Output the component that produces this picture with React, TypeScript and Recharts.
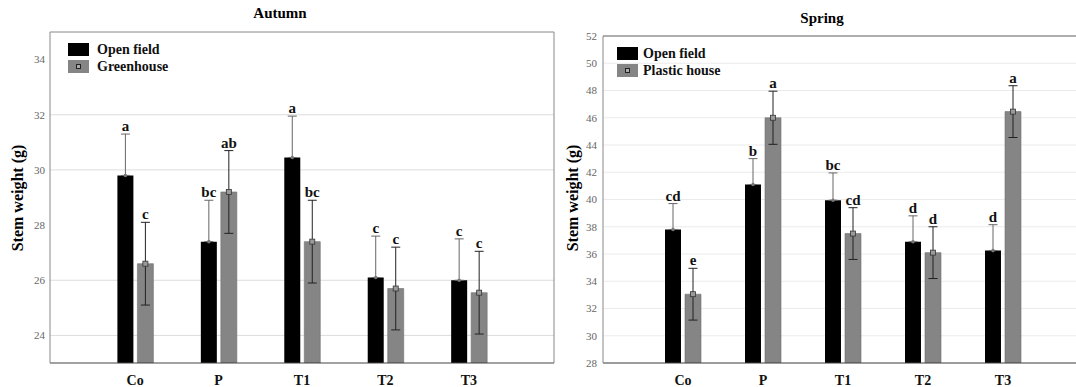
import React from 'react';
import { BarChart, Bar, XAxis, YAxis, CartesianGrid, ErrorBar, LabelList, Legend } from 'recharts';

const categories = ['Co', 'P', 'T1', 'T2', 'T3'];

// Autumn
const autumnOpen = [29.8, 27.4, 30.45, 26.1, 26.0];
const autumnOpenErr = [1.5, 1.5, 1.5, 1.5, 1.5];
const autumnOpenLetters = ['a', 'bc', 'a', 'c', 'c'];
const autumnGreen = [26.6, 29.2, 27.4, 25.7, 25.55];
const autumnGreenErr = [1.5, 1.5, 1.5, 1.5, 1.5];
const autumnGreenLetters = ['c', 'ab', 'bc', 'c', 'c'];
const autumnTicks = [24, 26, 28, 30, 32, 34];
const autumnGridValues = [24, 26, 30, 32];
const autumnDomain: [number, number] = [23, 35];

// Spring
const springOpen = [37.8, 41.1, 39.95, 36.9, 36.25];
const springOpenErr = [1.9, 1.9, 2.0, 1.9, 1.9];
const springOpenLetters = ['cd', 'b', 'bc', 'd', 'd'];
const springPlastic = [33.05, 46.0, 37.5, 36.1, 46.45];
const springPlasticErr = [1.9, 1.95, 1.9, 1.9, 1.9];
const springPlasticLetters = ['e', 'a', 'cd', 'd', 'a'];
const springTicks = [28, 30, 32, 34, 36, 38, 40, 42, 44, 46, 48, 50, 52];
const springDomain: [number, number] = [28, 52];

const minorRightTicks = [1, 2, 3, 4, 5, 6, 7, 8, 9];

// The lower whisker of the open-field bars is hidden inside the black bar.
const autumnData = categories.map((c, i) => ({
  cat: c,
  open: autumnOpen[i],
  openErr: [0, autumnOpenErr[i]],
  other: autumnGreen[i],
  otherErr: autumnGreenErr[i],
}));

const springData = categories.map((c, i) => ({
  cat: c,
  open: springOpen[i],
  openErr: [0, springOpenErr[i]],
  other: springPlastic[i],
  otherErr: springPlasticErr[i],
}));

const SERIF = '"Liberation Serif", "Times New Roman", serif';
const BLACK = '#000000';
const GRAY = '#858585';

const makeLabel = (letters: string[], vals: number[], errs: number[], min: number, square: boolean) =>
  (props: any) => {
    const x = Number(props.x);
    const y = Number(props.y);
    const width = Number(props.width);
    const height = Number(props.height);
    const index = props.index as number;
    const v = vals[index];
    const e = errs[index];
    const ppu = height / (v - min);
    const cx = x + width / 2;
    const capY = y - e * ppu;
    return (
      <g>
        {square ? (
          <rect x={cx - 2.5} y={y - 2.5} width={5} height={5} fill="#9a9a9a" stroke="#333" strokeWidth={0.8} />
        ) : (
          <circle cx={cx} cy={y} r={1.8} fill="#777" />
        )}
        <text x={cx} y={capY - 3} textAnchor="middle" fontFamily={SERIF} fontWeight="bold" fontSize={15} fill="#111">
          {letters[index]}
        </text>
      </g>
    );
  };

function LegendBox({ labels, gap }: { labels: string[]; gap: number }) {
  return (
    <div style={{ fontFamily: SERIF, fontWeight: 'bold', fontSize: 14, color: '#111' }}>
      {labels.map((l, i) => (
        <div key={l} style={{ display: 'flex', alignItems: 'center', height: 17 }}>
          <span
            style={{
              display: 'inline-block',
              position: 'relative',
              width: 21,
              height: 13,
              background: i === 0 ? BLACK : GRAY,
              marginRight: gap,
              boxSizing: 'border-box',
            }}
          >
            {i === 1 && (
              <span
                style={{
                  position: 'absolute',
                  left: 8,
                  top: 4,
                  width: 5,
                  height: 5,
                  boxSizing: 'border-box',
                  border: '1px solid #222',
                  background: '#aaa',
                }}
              />
            )}
          </span>
          <span style={{ lineHeight: '17px' }}>{l}</span>
        </div>
      ))}
    </div>
  );
}

const tickStyle = { fontFamily: SERIF, fontSize: 11, fill: '#666' };
const xTickStyle = { fontFamily: SERIF, fontSize: 14, fill: '#111', fontWeight: 'bold' as const };

export default function App() {
  return (
    <div
      style={{
        position: 'fixed',
        left: 0,
        top: 0,
        width: 1076,
        height: 387,
        overflow: 'hidden',
        background: '#fff',
        fontFamily: SERIF,
      }}
    >
      {/* Titles */}
      <div style={{ position: 'absolute', left: 200, width: 160, top: 4, textAlign: 'center', fontWeight: 'bold', fontSize: 15, lineHeight: '18px' }}>
        Autumn
      </div>
      <div style={{ position: 'absolute', left: 742, width: 160, top: 9, textAlign: 'center', fontWeight: 'bold', fontSize: 15, lineHeight: '18px' }}>
        Spring
      </div>
      {/* Y labels */}
      <div
        style={{
          position: 'absolute',
          left: 18,
          top: 198,
          width: 200,
          textAlign: 'center',
          fontWeight: 'bold',
          fontSize: 16,
          lineHeight: '18px',
          transform: 'translate(-50%, -50%) rotate(-90deg)',
          zIndex: 2,
        }}
      >
        Stem weight (g)
      </div>
      <div
        style={{
          position: 'absolute',
          left: 573,
          top: 198,
          width: 200,
          textAlign: 'center',
          fontWeight: 'bold',
          fontSize: 16,
          lineHeight: '18px',
          transform: 'translate(-50%, -50%) rotate(-90deg)',
          zIndex: 2,
        }}
      >
        Stem weight (g)
      </div>

      {/* Autumn chart */}
      <div style={{ position: 'absolute', left: 0, top: 0 }}>
        <BarChart width={560} height={387} data={autumnData} margin={{ top: 32, right: 6, bottom: 0, left: 0 }} barSize={16} barGap={4}>
          <CartesianGrid vertical={false} stroke="#dcdcdc" horizontalValues={autumnGridValues} />
          <XAxis
            dataKey="cat"
            height={24}
            padding={{ left: 43.4, right: 43.4 }}
            tickLine={false}
            tickSize={9}
            tickMargin={3}
            tick={xTickStyle}
            axisLine={{ stroke: '#444' }}
          />
          <XAxis
            xAxisId="top"
            dataKey="cat"
            orientation="top"
            height={1}
            mirror
            padding={{ left: 43.4, right: 43.4 }}
            tick={false}
            tickSize={3}
            tickLine={{ stroke: '#777' }}
            axisLine={{ stroke: '#888' }}
          />
          <YAxis
            width={50}
            domain={autumnDomain}
            ticks={autumnTicks}
            type="number"
            allowDataOverflow
            tickLine={false}
            tickSize={3}
            tickMargin={2}
            tick={tickStyle}
            axisLine={{ stroke: '#888' }}
          />
          <YAxis
            yAxisId="r"
            orientation="right"
            width={1}
            mirror
            type="number"
            domain={[0, 10]}
            ticks={minorRightTicks}
            tick={false}
            tickSize={3}
            tickLine={{ stroke: '#777' }}
            axisLine={{ stroke: '#888' }}
          />
          <Legend
            layout="horizontal"
            verticalAlign="middle"
            align="center"
            wrapperStyle={{ left: 68, top: 41, width: 'auto' }}
            content={() => <LegendBox labels={['Open field', 'Greenhouse']} gap={8} />}
          />
          <Bar dataKey="open" name="Open field" fill={BLACK} isAnimationActive={false}>
            <ErrorBar dataKey="openErr" width={4.5} stroke="#666" strokeWidth={1} />
            <LabelList dataKey="open" content={makeLabel(autumnOpenLetters, autumnOpen, autumnOpenErr, autumnDomain[0], false)} />
          </Bar>
          <Bar dataKey="other" name="Greenhouse" fill={GRAY} stroke="#6e6e6e" strokeWidth={0.6} isAnimationActive={false}>
            <ErrorBar dataKey="otherErr" width={4.5} stroke="#222" strokeWidth={1} />
            <LabelList dataKey="other" content={makeLabel(autumnGreenLetters, autumnGreen, autumnGreenErr, autumnDomain[0], true)} />
          </Bar>
        </BarChart>
      </div>

      {/* Spring chart */}
      <div style={{ position: 'absolute', left: 560, top: 0 }}>
        <BarChart width={530} height={387} data={springData} margin={{ top: 36, right: 7, bottom: 0, left: 0 }} barSize={16} barGap={4}>
          <CartesianGrid vertical={false} stroke="#ebebeb" />
          <XAxis
            dataKey="cat"
            height={24}
            padding={{ left: 40, right: 40 }}
            tickLine={false}
            tickSize={9}
            tickMargin={3}
            tick={xTickStyle}
            axisLine={{ stroke: '#444' }}
          />
          <XAxis
            xAxisId="top"
            dataKey="cat"
            orientation="top"
            height={1}
            mirror
            padding={{ left: 40, right: 40 }}
            tick={false}
            tickSize={3}
            tickLine={{ stroke: '#777' }}
            axisLine={{ stroke: '#666' }}
          />
          <YAxis
            width={43}
            domain={springDomain}
            ticks={springTicks}
            type="number"
            allowDataOverflow
            tickLine={false}
            tickSize={4}
            tickMargin={2}
            tick={tickStyle}
            axisLine={{ stroke: '#888' }}
          />
          <Legend
            layout="horizontal"
            verticalAlign="middle"
            align="center"
            wrapperStyle={{ left: 57, top: 45, width: 'auto' }}
            content={() => <LegendBox labels={['Open field', 'Plastic house']} gap={5} />}
          />
          <Bar dataKey="open" name="Open field" fill={BLACK} isAnimationActive={false}>
            <ErrorBar dataKey="openErr" width={4.5} stroke="#666" strokeWidth={1} />
            <LabelList dataKey="open" content={makeLabel(springOpenLetters, springOpen, springOpenErr, springDomain[0], false)} />
          </Bar>
          <Bar dataKey="other" name="Plastic house" fill={GRAY} stroke="#6e6e6e" strokeWidth={0.6} isAnimationActive={false}>
            <ErrorBar dataKey="otherErr" width={4.5} stroke="#222" strokeWidth={1} />
            <LabelList dataKey="other" content={makeLabel(springPlasticLetters, springPlastic, springPlasticErr, springDomain[0], true)} />
          </Bar>
        </BarChart>
      </div>
    </div>
  );
}
